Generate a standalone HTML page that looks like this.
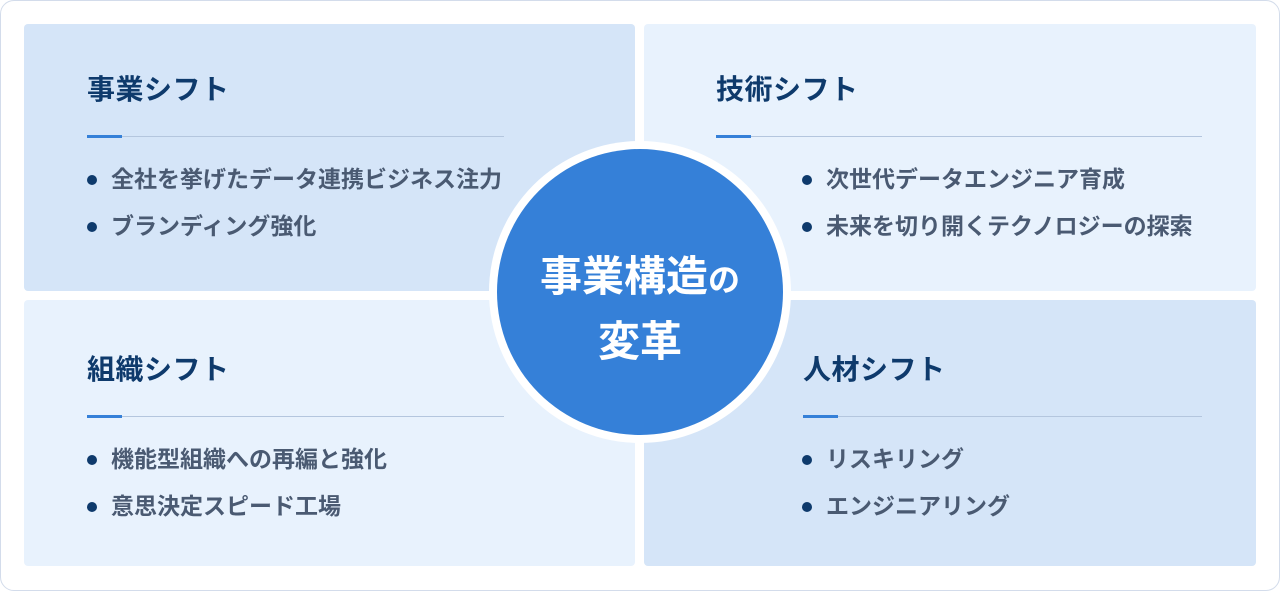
<!DOCTYPE html>
<html><head><meta charset="utf-8"><style>
*{margin:0;padding:0;box-sizing:border-box}
body{width:1280px;height:591px;background:#fff;position:relative;overflow:hidden;font-family:"Liberation Sans","Noto Sans CJK JP",sans-serif}
.frame{position:absolute;left:0;top:0;width:1280px;height:591px;border:1.5px solid #d3dceb;border-radius:14px}
.q{position:absolute;border-radius:4px}
.t{position:absolute;font-size:28px;font-weight:bold;color:#0e3a6c;line-height:1;letter-spacing:0.5px}
.ln{position:absolute;height:1px;background:#b4c6de}
.ln::before{content:"";position:absolute;left:0;top:-1px;width:35px;height:3px;background:#3580d8}
.b{position:absolute;font-size:23px;font-weight:bold;color:#4a5a72;line-height:1;white-space:nowrap}
.b::before{content:"";position:absolute;left:-24px;top:7px;width:10px;height:10px;border-radius:50%;background:#0e3a6c}
.c{position:absolute;left:489px;top:141px;width:302px;height:302px;border-radius:50%;background:#fff}
.ci{position:absolute;left:497px;top:149px;width:286px;height:286px;border-radius:50%;background:#3580d8;color:#fff;font-weight:bold;font-size:42px;text-align:center}
</style></head><body>
<div class="frame"></div>
<div class="q" style="left:24px;top:24px;width:611px;height:267px;background:#d5e5f8"></div>
<div class="q" style="left:644px;top:24px;width:612px;height:267px;background:#e8f2fd"></div>
<div class="q" style="left:24px;top:300px;width:611px;height:266px;background:#e8f2fd"></div>
<div class="q" style="left:644px;top:300px;width:612px;height:266px;background:#d5e5f8"></div>

<div class="t" style="left:87px;top:76px">事業シフト</div>
<div class="ln" style="left:87px;top:136px;width:417px"></div>
<div class="b" style="left:111px;top:168px">全社を挙げたデータ連携ビジネス注力</div>
<div class="b" style="left:111px;top:215px">ブランディング強化</div>

<div class="t" style="left:716px;top:76px">技術シフト</div>
<div class="ln" style="left:716px;top:136px;width:486px"></div>
<div class="b" style="left:826px;top:168px">次世代データエンジニア育成</div>
<div class="b" style="left:826px;top:215px">未来を切り開くテクノロジーの探索</div>

<div class="t" style="left:87px;top:356px">組織シフト</div>
<div class="ln" style="left:87px;top:416px;width:417px"></div>
<div class="b" style="left:111px;top:448px">機能型組織への再編と強化</div>
<div class="b" style="left:111px;top:495px">意思決定スピード工場</div>

<div class="t" style="left:803px;top:356px">人材シフト</div>
<div class="ln" style="left:803px;top:416px;width:399px"></div>
<div class="b" style="left:826px;top:448px">リスキリング</div>
<div class="b" style="left:826px;top:495px">エンジニアリング</div>

<div class="c"></div>
<div class="ci"><div style="position:absolute;left:0;right:0;top:107px;line-height:1">事業構造<span style="font-size:32px">の</span></div><div style="position:absolute;left:0;right:0;top:172px;line-height:1">変革</div></div>
</body></html>
